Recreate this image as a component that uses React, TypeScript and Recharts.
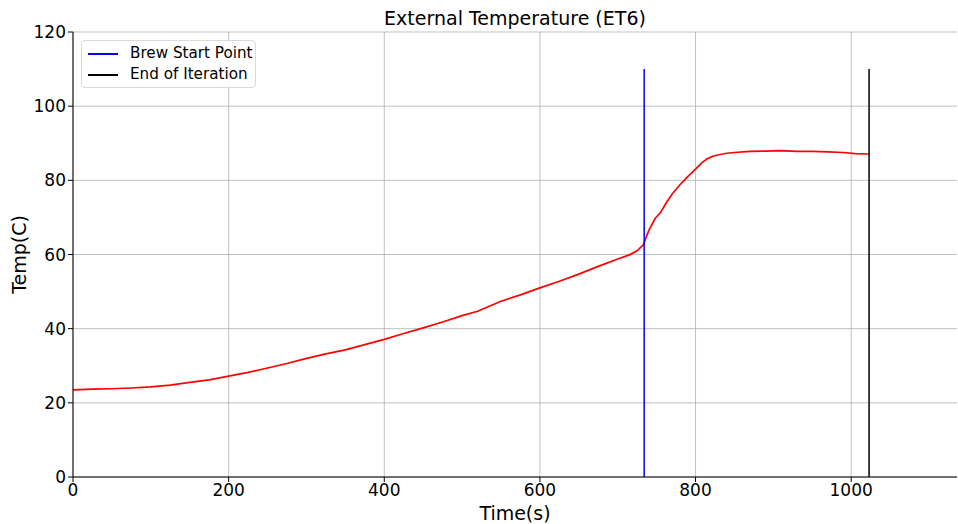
import React from "react";
import { LineChart, Line, XAxis, YAxis, CartesianGrid } from "recharts";

const times = [0, 25, 50, 75, 100, 125, 150, 175, 200, 225, 250, 275, 300, 325, 350, 375, 400, 425, 450, 475, 500, 520, 550, 575, 600, 625, 650, 675, 700, 715, 725, 733, 740, 748, 755, 762, 770, 780, 790, 800, 808, 815, 822, 830, 840, 850, 870, 890, 910, 930, 950, 970, 990, 1005, 1023];
const temps = [23.5, 23.7, 23.8, 24.0, 24.3, 24.8, 25.5, 26.2, 27.2, 28.2, 29.4, 30.6, 32.0, 33.2, 34.3, 35.7, 37.1, 38.7, 40.2, 41.8, 43.5, 44.7, 47.4, 49.1, 51.0, 52.8, 54.7, 56.8, 58.8, 59.9, 61.0, 62.7, 66.5, 69.7, 71.3, 73.8, 76.3, 78.8, 81.0, 83.0, 84.7, 85.8, 86.5, 86.9, 87.3, 87.5, 87.8, 87.9, 88.0, 87.8, 87.8, 87.7, 87.5, 87.2, 87.1];
const brewStart = 734;
const endIter = 1023;
const xTicks = [0, 200, 400, 600, 800, 1000];
const yTicks = [0, 20, 40, 60, 80, 100, 120];
const legendItems = [["Brew Start Point", "blue"], ["End of Iteration", "black"]];

const tempData = times.map((t, i) => ({ t, v: temps[i] }));
const brewData = [{ t: brewStart, v: 0 }, { t: brewStart, v: 110 }];
const endData = [{ t: endIter, v: 0 }, { t: endIter, v: 110 }];

const font = "DejaVu Sans";

export default function App() {
  return (
    <div style={{ position: "absolute", left: 0, top: 0, width: 958, height: 524, background: "#fff" }}>
      <div style={{ position: "absolute", left: 73, width: 884, top: 7, textAlign: "center", fontFamily: font, fontSize: 19, color: "#000" }}>External Temperature (ET6)</div>
      <LineChart width={958} height={524} margin={{ top: 32, right: 1, left: 13, bottom: 0 }}>
        <CartesianGrid stroke="#b0b0b0" strokeWidth={0.8} horizontalValues={yTicks} verticalValues={xTicks} />
        <XAxis xAxisId="top" orientation="top" type="number" dataKey="t" domain={[0, 1136]} height={0} tick={false} tickLine={false} axisLine={{ stroke: "#000", strokeWidth: 1 }} allowDataOverflow />
        <YAxis yAxisId="right" orientation="right" type="number" domain={[0, 120]} width={0} tick={false} tickLine={false} axisLine={{ stroke: "#000", strokeWidth: 1 }} />
        <XAxis type="number" dataKey="t" domain={[0, 1136]} ticks={xTicks} height={47} allowDataOverflow
          tick={{ fill: "#000", fontSize: 17, fontFamily: font }} tickLine={{ stroke: "#000" }} tickSize={5} axisLine={{ stroke: "#000" }}
          label={{ value: "Time(s)", position: "insideBottom", offset: 4, fill: "#000", fontSize: 19, fontFamily: font }} />
        <YAxis type="number" domain={[0, 120]} ticks={yTicks} width={60}
          tick={{ fill: "#000", fontSize: 17, fontFamily: font }} tickLine={{ stroke: "#000" }} tickSize={5} axisLine={{ stroke: "#000" }}
          label={{ value: "Temp(C)", angle: -90, position: "insideLeft", offset: 0, dx: 6, fill: "#000", fontSize: 19, fontFamily: font, style: { textAnchor: "middle" } }} />
        <Line data={tempData} dataKey="v" stroke="red" strokeWidth={1.7} dot={false} isAnimationActive={false} legendType="none" />
        <Line data={brewData} dataKey="v" stroke="blue" strokeWidth={1.5} dot={false} isAnimationActive={false} />
        <Line data={endData} dataKey="v" stroke="black" strokeWidth={1.5} dot={false} isAnimationActive={false} />
      </LineChart>
      <div style={{ position: "absolute", left: 81, top: 40, boxSizing: "border-box", width: 175, height: 48, border: "1px solid #d9d9d9", borderRadius: 4, background: "rgba(255,255,255,0.8)", padding: "2px 0 2px 6px", fontFamily: font, fontSize: 15.2, color: "#000", lineHeight: "21px", whiteSpace: "nowrap", overflow: "visible" }}>
        {legendItems.map(([l, c]) => (
          <div key={l} style={{ display: "flex", alignItems: "center", width: 220 }}>
            <span style={{ display: "inline-block", flexShrink: 0, width: 30, height: 2, background: c, marginRight: 12 }} />
            <span style={{ flexShrink: 0 }}>{l}</span>
          </div>
        ))}
      </div>
    </div>
  );
}
